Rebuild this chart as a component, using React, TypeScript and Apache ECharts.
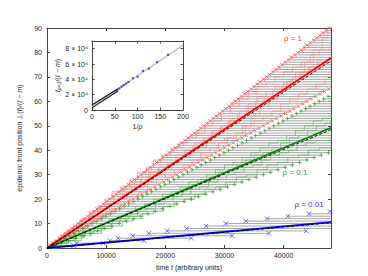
import React, { useEffect, useRef } from "react";
import * as echarts from "echarts";

const FONT = "'Liberation Sans', Arial, Helvetica, sans-serif";
const X_MAX = 48000;
const Y_MAX = 90;
const X_TICK = 10000;
const Y_TICK = 10;

// First-passage times (thousands of time units) of front levels 1, 2, 3, ...
const RED_UPPER = [0.46,1.0,1.53,2.06,2.6,3.12,3.66,4.19,4.72,5.26,5.79,6.32,6.85,7.38,7.92,8.44,8.98,9.5,10.03,10.57,11.1,11.62,12.16,12.68,13.22,13.75,14.28,14.8,15.34,15.87,16.4,16.93,17.46,17.98,18.52,19.05,19.58,20.1,20.64,21.17,21.7,22.22,22.76,23.28,23.82,24.35,24.88,25.4,25.94,26.47,27.0,27.52,28.06,28.58,29.12,29.65,30.18,30.7,31.24,31.77,32.3,32.82,33.36,33.88,34.42,34.95,35.48,36.0,36.54,37.07,37.6,38.12,38.66,39.18,39.72,40.25,40.78,41.3,41.84,42.37,42.9,43.42,43.96,44.48,45.02,45.55,46.08,46.6,47.14,47.66];
const RED_LOWER = [0.7,1.45,2.18,2.9,3.65,4.38,5.1,5.85,6.58,7.3,8.05,8.78,9.5,10.25,10.98,11.7,12.45,13.18,13.9,14.65,15.38,16.1,16.85,17.58,18.3,19.05,19.78,20.5,21.25,21.98,22.7,23.45,24.18,24.9,25.65,26.38,27.1,27.85,28.58,29.3,30.05,30.78,31.5,32.25,32.98,33.7,34.45,35.18,35.9,36.65,37.38,38.1,38.85,39.58,40.3,41.05,41.78,42.5,43.25,43.98,44.7,45.45,46.18,46.9,47.65];
const GREEN_UPPER = [0.75,1.52,2.3,3.05,3.83,4.6,5.35,6.12,6.9,7.65,8.42,9.2,9.95,10.72,11.5,12.25,13.02,13.8,14.55,15.32,16.1,16.85,17.62,18.4,19.15,19.92,20.7,21.45,22.22,23.0,23.75,24.52,25.3,26.05,26.82,27.6,28.35,29.12,29.9,30.65,31.42,32.2,32.95,33.72,34.5,35.25,36.02,36.8,37.55,38.32,39.1,39.85,40.62,41.4,42.15,42.92,43.7,44.45,45.22,46.0,46.75,47.52];
const GREEN_LOWER = [1.2,2.45,3.65,4.88,6.1,7.32,8.55,9.75,10.98,12.2,13.42,14.65,15.85,17.08,18.3,19.52,20.75,21.95,23.18,24.4,25.62,26.85,28.05,29.28,30.5,31.72,32.95,34.15,35.38,36.6,37.82,39.05,40.25,41.48,42.7,43.92,45.15,46.35,47.58];
const BLUE_UPPER = [1.5,5.0,10.6,12.0,14.5,17.2,20.3,23.6,26.9,30.2,33.6,37.2,40.7,44.3,47.8];
const BLUE_LOWER = [4.5,9.5,16.4,24.4,31.3,37.5,43.8];

// Single realisations [time (thousands), level]
const RED_RUN_1 = [[0,0],[1.5,3],[3,5],[4.5,8],[6,10],[7.5,13],[9,15],[10.5,18],[12,20],[13.5,23],[15,25],[16.5,27],[18,30],[19.5,32],[21,35],[22.5,37],[24,39],[25.5,41],[27,43],[28.5,44],[30,45],[31.5,46],[33,50],[34.5,54],[36,58],[37.5,61],[39,65],[40.5,68],[42,72],[43.5,76],[45,81],[46.5,86],[47.5,90]];
const RED_RUN_2 = [[0,0],[1,2],[2.2,5],[3.5,7],[5,10],[6.2,12],[7.8,15],[9,17],[10.5,19],[12,21],[13.2,24],[14.8,27],[16,29],[17.5,31],[19,33],[20.5,35],[22,37],[23.5,40],[25,43],[26.5,45],[28,48],[29.5,50],[31,53],[32.5,56],[34,59],[35.5,62],[37,64],[38.5,66],[40,68],[41.5,70],[43,72],[44.5,74],[46,76],[48,77]];
const RED_RUN_3 = [[0,0],[1.8,3],[3.2,5],[4.8,7],[6.5,10],[8,12],[9.5,14],[11,16],[12.5,19],[14,21],[15.5,23],[17,26],[18.5,28],[20,30],[21.5,32],[23,34],[24.5,36],[26,39],[27.5,41],[29,43],[30.5,45],[32,47],[33.5,50],[35,52],[36.5,54],[38,56],[39.5,59],[41,61],[42.5,63],[44,65],[45.5,67],[47,69],[48,70]];
const RED_RUN_4 = [[0,0],[1.3,3],[2.8,6],[4,8],[5.5,11],[7,13],[8.5,16],[10,18],[11.3,21],[12.8,24],[14.3,26],[15.8,28],[17.2,31],[18.8,33],[20.3,35],[21.8,38],[23.2,40],[24.7,42],[26.2,44],[27.7,47],[29.2,49],[30.7,52],[32.2,55],[33.7,58],[35.2,60],[36.7,62],[38.2,64],[39.7,66],[41.2,69],[42.7,72],[44.2,74],[45.7,77],[48,79]];
const RED_RUN_5 = [[0,0],[0.8,2],[2,4],[3.3,7],[4.5,9],[5.8,12],[7.2,15],[8.5,17],[9.8,20],[11,23],[12.5,25],[14,28],[15.3,31],[16.8,33],[18,36],[19.5,38],[21,41],[22.3,43],[23.8,45],[25.2,47],[26.7,50],[28,52],[29.5,55],[31,58],[32.5,61],[34,63],[35.5,66],[37,68],[38.5,70],[40,72],[41.5,74],[43,76],[44.5,79],[46,81],[48,83]];
const GREEN_RUN_1 = [[0,0],[1.5,2],[3,3],[4.5,5],[6,7],[7.5,8],[9,10],[10.5,12],[12,13],[13.5,15],[15,17],[16.5,18],[18,20],[19.5,22],[21,23],[22.5,25],[24,27],[25.5,28],[27,30],[28.5,32],[30,34],[31.5,35],[33,37],[34.5,39],[36,41],[37.5,43],[39,44],[40.5,46],[42,48],[43.5,50],[45,52],[46.5,53],[48,55]];
const GREEN_RUN_2 = [[0,0],[2,2],[3.5,4],[5,5],[6.5,6],[8,8],[9.5,10],[11,11],[12.5,13],[14,14],[15.5,16],[17,18],[18.5,19],[20,21],[21.5,22],[23,24],[24.5,26],[26,27],[27.5,29],[29,31],[30.5,32],[32,34],[33.5,36],[35,38],[36.5,39],[38,41],[39.5,43],[41,45],[42.5,46],[44,48],[45.5,50],[47,51],[48,52]];
const GREEN_RUN_3 = [[0,0],[1.8,1],[3.3,3],[4.8,4],[6.3,6],[7.8,7],[9.3,9],[10.8,10],[12.3,12],[13.8,13],[15.3,15],[16.8,16],[18.3,18],[19.8,19],[21.3,21],[22.8,22],[24.3,24],[25.8,25],[27.3,27],[28.8,28],[30.3,30],[31.8,31],[33.3,33],[34.8,34],[36.3,36],[37.8,38],[39.3,39],[40.8,40],[42.3,42],[43.8,43],[45.3,44],[48,45]];
const GREEN_RUN_4 = [[0,0],[2.2,2],[4,3],[5.8,5],[7.5,6],[9.2,8],[11,9],[12.7,11],[14.5,12],[16.2,14],[18,15],[19.7,17],[21.5,19],[23.2,20],[25,22],[26.7,24],[28.5,25],[30.2,27],[32,29],[33.7,30],[35.5,32],[37.2,34],[39,35],[40.7,37],[42.5,38],[44.2,40],[46,41],[48,42]];

// Mean fronts and theory (time, level)
const RED_MEAN = [[0, 0], [48000, 77.7]];
const RED_THEORY = [[0, 0], [48000, 76.6]];
const GREEN_MEAN = [[0, 0], [48000, 49.2]];
const GREEN_THEORY = [[0, 0], [48000, 48.4]];
const BLUE_MEAN = [[0, 0], [48000, 10.6]];
const BLUE_THEORY = [[0, 0], [48000, 10.3]];

// Inset: time to reach a level for rho = 1 vs 1/rho
const INSET_FIT = [[0, 4500], [200, 84500]];
const INSET_BLACK_LOW = [[0, 2800], [57, 24800]];
const INSET_BLACK_HIGH = [[0, 6500], [57, 27800]];
const INSET_BLUE = [[55,25000],[60,28000],[65,30500],[70,32500],[75,34500],[80,36500],[90,41500],[100,43500],[112,51000],[125,54000],[143,62500],[167,72000]];
const INSET_X_TICKS = [0, 50, 100, 150, 200];
const INSET_Y_MAX = 90000;
const INSET_Y_TICK = 20000;

const X_SYM = "path://M0,0L10,10M10,0L0,10";
const PLUS_SYM = "path://M5,0L5,10M0,5L10,5";
const GRAY = "#a6a6a6";

// horizontal segment per level, from upper-bound time to lower-bound time (or plot edge), gaps between
function grayLines(upper: number[], lower: number[]) {
  const out: any[] = [];
  upper.forEach((u, i) => {
    out.push([u * 1000, i + 1]);
    out.push([lower[i] !== undefined ? lower[i] * 1000 : X_MAX, i + 1]);
    out.push(["-", "-"]);
  });
  return out;
}
function markers(times: number[]) {
  return times.map((t, i) => [t * 1000, i + 1]).filter((p) => p[0] <= X_MAX);
}
function run(pts: number[][]) {
  return pts.map((p) => [p[0] * 1000, p[1]]);
}

const AX = "#444";
const LBL = { fontFamily: FONT, fontSize: 7, color: "#222" };

export default function App() {
  const ref = useRef<HTMLDivElement>(null);
  useEffect(() => {
    if (!ref.current) return;
    const chart = echarts.init(ref.current, undefined, { renderer: "svg" });
    const mainX = (pos: string, labels: boolean) => ({
      type: "value",
      gridIndex: 0,
      position: pos,
      min: 0,
      max: X_MAX,
      interval: X_TICK,
      axisLine: { show: true, onZero: false, lineStyle: { color: AX, width: 1 } },
      axisTick: { show: true, inside: true, length: 3, lineStyle: { color: AX } },
      axisLabel: { show: labels, ...LBL, margin: 4, showMaxLabel: false, formatter: (v: number) => String(v) },
      splitLine: { show: false },
      ...(labels
        ? {
            name: "time {i|t} (arbitrary units)",
            nameLocation: "middle",
            nameGap: 13,
            nameTextStyle: { ...LBL, rich: { i: { ...LBL, fontStyle: "italic" } } },
          }
        : {}),
    });
    const mainY = (pos: string, labels: boolean) => ({
      type: "value",
      gridIndex: 0,
      position: pos,
      min: 0,
      max: Y_MAX,
      interval: Y_TICK,
      axisLine: { show: true, onZero: false, lineStyle: { color: AX, width: 1 } },
      axisTick: { show: true, inside: true, length: 3, lineStyle: { color: AX } },
      axisLabel: { show: labels, ...LBL, margin: 5 },
      splitLine: { show: false },
      ...(labels
        ? {
            name: "epidemic front position ⊥({i|t})/({i|ℓ} − {i|m})",
            nameLocation: "middle",
            nameGap: 17,
            nameTextStyle: { ...LBL, rich: { i: { ...LBL, fontStyle: "italic" } } },
          }
        : {}),
    });
    const insetX = (pos: string, labels: boolean) => ({
      type: "value",
      gridIndex: 1,
      position: pos,
      min: INSET_X_TICKS[0],
      max: INSET_X_TICKS[INSET_X_TICKS.length - 1],
      interval: INSET_X_TICKS[1] - INSET_X_TICKS[0],
      axisLine: { show: true, onZero: false, lineStyle: { color: AX, width: 1 } },
      axisTick: { show: true, inside: true, length: 2.5, lineStyle: { color: AX } },
      axisLabel: { show: labels, ...LBL, margin: 3 },
      splitLine: { show: false },
      ...(labels
        ? {
            name: "1/{i|ρ}",
            nameLocation: "middle",
            nameGap: 13,
            nameTextStyle: { ...LBL, rich: { i: { ...LBL, fontStyle: "italic" } } },
          }
        : {}),
    });
    const insetY = (pos: string, labels: boolean) => ({
      type: "value",
      gridIndex: 1,
      position: pos,
      min: 0,
      max: INSET_Y_MAX,
      interval: INSET_Y_TICK,
      axisLine: { show: true, onZero: false, lineStyle: { color: AX, width: 1 } },
      axisTick: { show: true, inside: true, length: 2.5, lineStyle: { color: AX } },
      axisLabel: {
        show: labels,
        ...LBL,
        margin: 4,
        showMaxLabel: false,
        formatter: (v: number) => (v === 0 ? "0" : v > 80000 ? "" : `${v / 10000} × 10⁴`),
      },
      splitLine: { show: false },
      ...(labels
        ? {
            name: "{i|t}{s|ρ=1}/({i|ℓ} − {i|m})",
            nameLocation: "middle",
            nameGap: 31,
            nameTextStyle: {
              ...LBL,
              rich: {
                i: { ...LBL, fontStyle: "italic" },
                s: { ...LBL, fontSize: 5, fontStyle: "italic", padding: [3, 0, 0, 0] },
              },
            },
          }
        : {}),
    });

    const option: any = {
      animation: false,
      backgroundColor: "#ffffff",
      textStyle: { fontFamily: FONT },
      grid: [
        { left: 47, top: 28, width: 284, height: 220 },
        { left: 92, top: 41, width: 91, height: 69 },
      ],
      xAxis: [mainX("bottom", true), mainX("top", false), insetX("bottom", true), insetX("top", false)],
      yAxis: [mainY("left", true), mainY("right", false), insetY("left", true), insetY("right", false)],
      series: [
        ...[
          grayLines(RED_UPPER, RED_LOWER),
          grayLines(GREEN_UPPER, GREEN_LOWER),
          grayLines(BLUE_UPPER, BLUE_LOWER),
        ].map((d) => ({
          type: "line",
          connectNulls: false,
          showSymbol: false,
          silent: true,
          z: 1,
          itemStyle: { color: GRAY },
          lineStyle: { color: GRAY, width: 1, opacity: 1 },
          data: d,
        })),
        ...[RED_RUN_1, RED_RUN_2, RED_RUN_3, RED_RUN_4, RED_RUN_5].map((r) => ({
          type: "line",
          step: "end",
          showSymbol: false,
          silent: true,
          z: 2,
          itemStyle: { color: "#ff8a8a" },
          lineStyle: { color: "#ff8a8a", width: 0.8, opacity: 0.9 },
          data: run(r),
        })),
        ...[GREEN_RUN_1, GREEN_RUN_2, GREEN_RUN_3, GREEN_RUN_4].map((r) => ({
          type: "line",
          step: "end",
          showSymbol: false,
          silent: true,
          z: 2,
          itemStyle: { color: "#62b262" },
          lineStyle: { color: "#62b262", width: 0.8, opacity: 0.9 },
          data: run(r),
        })),
        ...[RED_UPPER, RED_LOWER].map((m) => ({
          type: "scatter",
          symbol: X_SYM,
          symbolSize: 3.2,
          silent: true,
          z: 3,
          itemStyle: { color: "rgba(0,0,0,0)", borderColor: "#ff3b3b", borderWidth: 0.9 },
          data: markers(m),
        })),
        ...[GREEN_UPPER, GREEN_LOWER].map((m) => ({
          type: "scatter",
          symbol: PLUS_SYM,
          symbolSize: 4,
          silent: true,
          z: 3,
          itemStyle: { color: "rgba(0,0,0,0)", borderColor: "#2e9a2e", borderWidth: 0.9 },
          data: markers(m),
        })),
        ...[BLUE_UPPER, BLUE_LOWER].map((m) => ({
          type: "scatter",
          symbol: X_SYM,
          symbolSize: 4.5,
          silent: true,
          z: 3,
          itemStyle: { color: "rgba(0,0,0,0)", borderColor: "#3a3aff", borderWidth: 0.9 },
          data: markers(m),
        })),
        ...[
          [RED_MEAN, "#ff0000"],
          [GREEN_MEAN, "#008800"],
          [BLUE_MEAN, "#0000ff"],
        ].map(([d, c]: any) => ({
          type: "line",
          showSymbol: false,
          silent: true,
          z: 4,
          itemStyle: { color: c },
          lineStyle: { color: c, width: 1.8 },
          data: d,
        })),
        ...[RED_THEORY, GREEN_THEORY, BLUE_THEORY].map((d) => ({
          type: "line",
          showSymbol: false,
          silent: true,
          z: 5,
          itemStyle: { color: "#000" },
          lineStyle: { color: "#000", width: 0.9, type: [3, 2] },
          data: d,
        })),
        // inset
        {
          type: "line",
          xAxisIndex: 2,
          yAxisIndex: 2,
          showSymbol: false,
          silent: true,
          z: 6,
          itemStyle: { color: "#c4c4c4" },
          lineStyle: { color: "#c4c4c4", width: 1.5 },
          data: INSET_FIT,
        },
        ...[INSET_BLACK_LOW, INSET_BLACK_HIGH].map((d) => ({
          type: "line",
          xAxisIndex: 2,
          yAxisIndex: 2,
          showSymbol: false,
          silent: true,
          z: 7,
          itemStyle: { color: "#111" },
          lineStyle: { color: "#111", width: 1.1 },
          data: d,
        })),
        {
          type: "scatter",
          xAxisIndex: 2,
          yAxisIndex: 2,
          symbol: "rect",
          symbolSize: 2.2,
          silent: true,
          z: 8,
          itemStyle: { color: "#2233cc" },
          data: INSET_BLUE,
        },
      ],
      graphic: [
        {
          type: "text",
          x: 293,
          y: 38,
          z: 20,
          style: { text: "ρ = 1", fill: "#ff3b3b", font: `8px ${FONT}`, align: "center", verticalAlign: "middle" },
        },
        {
          type: "text",
          x: 295,
          y: 172,
          z: 20,
          style: { text: "ρ = 0.1", fill: "#2e9a2e", font: `8px ${FONT}`, align: "center", verticalAlign: "middle" },
        },
        {
          type: "text",
          x: 309,
          y: 204,
          z: 20,
          style: { text: "ρ = 0.01", fill: "#3a3aff", font: `8px ${FONT}`, align: "center", verticalAlign: "middle" },
        },
      ],
    };
    chart.setOption(option);
    return () => chart.dispose();
  }, []);
  return (
    <div
      ref={ref}
      style={{ position: "fixed", left: 0, top: 0, width: 368, height: 276, background: "#fff" }}
    />
  );
}
